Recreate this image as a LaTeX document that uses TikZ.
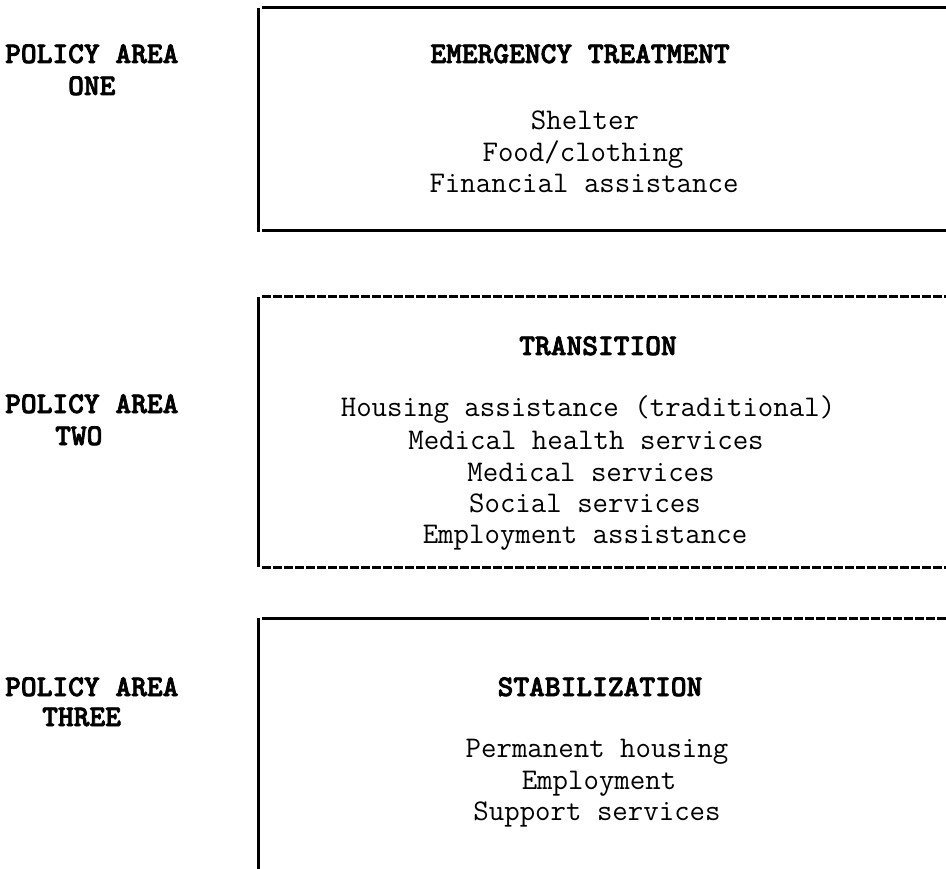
\documentclass[tikz,border=0pt]{standalone}
\usepackage{fontspec}
\newfontfamily\hdface{lmmonolt10-bold.otf}[FakeBold=2.5]
\newcommand{\bodyfnt}{\ttfamily\fontsize{30}{32}\selectfont}
\newcommand{\headfnt}{\hdface\fontsize{30}{32}\selectfont}
\begin{document}
\begin{tikzpicture}[x=1pt,y=-1pt,
  body/.style={font=\bodyfnt, inner sep=0pt, anchor=base},
  head/.style={font=\headfnt, inner sep=0pt, anchor=base},
  lbl/.style={font=\headfnt, inner sep=0pt, anchor=base west},
  rule/.style={line width=3pt, line cap=butt},
  dashrule/.style={line width=3pt, dash pattern=on 9pt off 2pt}]
\useasboundingbox (0,0) rectangle (946,869);
% corners
\coordinate (a1) at (258,8);   \coordinate (a2) at (258,232);
\coordinate (t1) at (262,8);   \coordinate (t2) at (946,8);
\coordinate (b1) at (262,231); \coordinate (b2) at (946,231);
\coordinate (c1) at (258,297); \coordinate (c2) at (258,567);
\coordinate (u1) at (262,297); \coordinate (u2) at (946,297);
\coordinate (v1) at (262,567); \coordinate (v2) at (946,567);
\coordinate (d1) at (258,618); \coordinate (d2) at (258,869);
\coordinate (w1) at (262,618); \coordinate (wm) at (640,618); \coordinate (w2) at (946,618);
% box one
\draw[rule] (a1) -- (a2);
\draw[rule] (t1) -- (t2);
\draw[rule] (b1) -- (b2);
% box two
\draw[rule] (c1) -- (c2);
\draw[dashrule] (u1) -- (u2);
\draw[dashrule] (v1) -- (v2);
% box three
\draw[rule] (d1) -- (d2);
\draw[rule] (w1) -- (wm);
\draw[dashrule] (wm) -- (w2);
% policy labels
\node[lbl] (p1a) at (5,63) {POLICY AREA};
\node[lbl] (p1b) at (68,95) {ONE};
\node[lbl] (p2a) at (5,413) {POLICY AREA};
\node[lbl] (p2b) at (55,445) {TWO};
\node[lbl] (p3a) at (5,696) {POLICY AREA};
\node[lbl] (p3b) at (42,726) {THREE};
% box one text
\node[head] (h1) at (580,63) {EMERGENCY TREATMENT};
\node[body] (s1) at (585,130) {Shelter};
\node[body] (s2) at (583,162) {Food/clothing};
\node[body] (s3) at (584,193) {Financial assistance};
% box two text
\node[head] (h2) at (598,355) {TRANSITION};
\node[body] (r1) at (588,416) {Housing assistance (traditional)};
\node[body] (r2) at (586,449) {Medical health services};
\node[body] (r3) at (591,481) {Medical services};
\node[body] (r4) at (585,512) {Social services};
\node[body] (r5) at (585,543) {Employment assistance};
% box three text
\node[head] (h3) at (600,696) {STABILIZATION};
\node[body] (q1) at (597,757) {Permanent housing};
\node[body] (q2) at (599,789) {Employment};
\node[body] (q3) at (597,820) {Support services};
\end{tikzpicture}
\end{document}
